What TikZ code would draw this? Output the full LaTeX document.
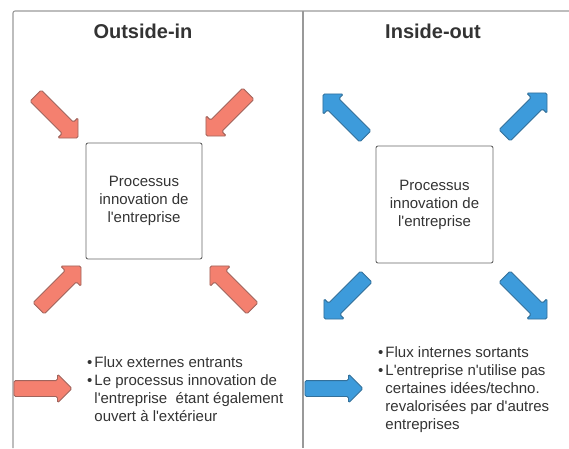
\documentclass[tikz,border=0pt]{standalone}
\usepackage{fontspec}
\setmainfont{Liberation Sans}[Ligatures = TeXOff]
\usepackage{tikz}
\usetikzlibrary{shapes.arrows}

\definecolor{salmon}{HTML}{F4806F}
\definecolor{salmonline}{HTML}{A0645C}
\definecolor{skyblue}{HTML}{3D9BDB}
\definecolor{skyline}{HTML}{33709A}
\definecolor{textgray}{HTML}{333333}

\tikzset{
  panel/.style = {draw = gray!80, line width = 1.1pt, rounded corners = 2pt},
  procbox/.style = {draw = gray!120, line width = 0.9pt, rounded corners = 2pt,
    minimum width = 116pt, minimum height = 116pt, align = center,
    text = textgray, font = \fontsize{15}{18}\selectfont},
  fatarrow/.style = {single arrow, single arrow head extend = 6.5pt,
    inner sep = 7.5pt, minimum height = 60pt, minimum width = 0pt,
    line width = 0.9pt, rounded corners = 1.5pt},
  inarrow/.style = {fatarrow, fill = salmon, draw = salmonline},
  outarrow/.style = {fatarrow, fill = skyblue, draw = skyline},
  paneltitle/.style = {font = \fontsize{20}{24}\selectfont\bfseries, text = textgray},
  bullets/.style = {anchor = base west, inner sep = 0pt, text = textgray,
    font = \fontsize{15}{18}\selectfont}
}

\begin{document}
\begin{tikzpicture}[x = 1pt, y = 1pt]
\useasboundingbox (0,0) rectangle (569,-448);

\draw[panel] (13,-448) -- (13,-11) -- (569,-11);
\draw[panel] (303,-11) -- (303,-448);

% Outside-in
\node[paneltitle] (titleIn) at (143,-31) {Outside-in};
\node[procbox] (procIn) at (144,-201) {Processus\\innovation de\\l'entreprise};

\node[inarrow, rotate = -45] (inTL) at (54,-114) {};
\node[inarrow, rotate = -135] (inTR) at (230,-112) {};
\node[inarrow, rotate = 45] (inBL) at (57,-290) {};
\node[inarrow, rotate = 135] (inBR) at (234,-290) {};
\node[inarrow, minimum height = 58pt] (inH) at (39,-388.5) {};

\node[bullets] (textIn) at (87,-367) {\begin{tabular}[t]{@{}l@{\hspace{2pt}}l@{}}
  •& Flux externes entrants\\
  •& Le processus innovation de\\
   & l'entreprise\ \ étant également\\
   & ouvert à l'extérieur
\end{tabular}};

% Inside-out
\node[paneltitle] (titleOut) at (433,-31) {Inside-out};
\node[procbox, minimum width = 117pt, minimum height = 117pt] (procOut) at (434.5,-204.5) {Processus\\innovation de\\l'entreprise};

\node[outarrow, rotate = 135] (outTL) at (347,-118) {};
\node[outarrow, rotate = 45] (outTR) at (523,-117) {};
\node[outarrow, rotate = -135] (outBL) at (348,-295) {};
\node[outarrow, rotate = -45] (outBR) at (523,-295) {};
\node[outarrow, minimum height = 58pt] (outH) at (330,-388.5) {};

\node[bullets] (textOut) at (378,-357) {\begin{tabular}[t]{@{}l@{\hspace{2pt}}l@{}}
  •& Flux internes sortants\\
  •& L'entreprise n'utilise pas\\
   & certaines idées/techno.\\
   & revalorisées par d'autres\\
   & entreprises
\end{tabular}};
\end{tikzpicture}
\end{document}
